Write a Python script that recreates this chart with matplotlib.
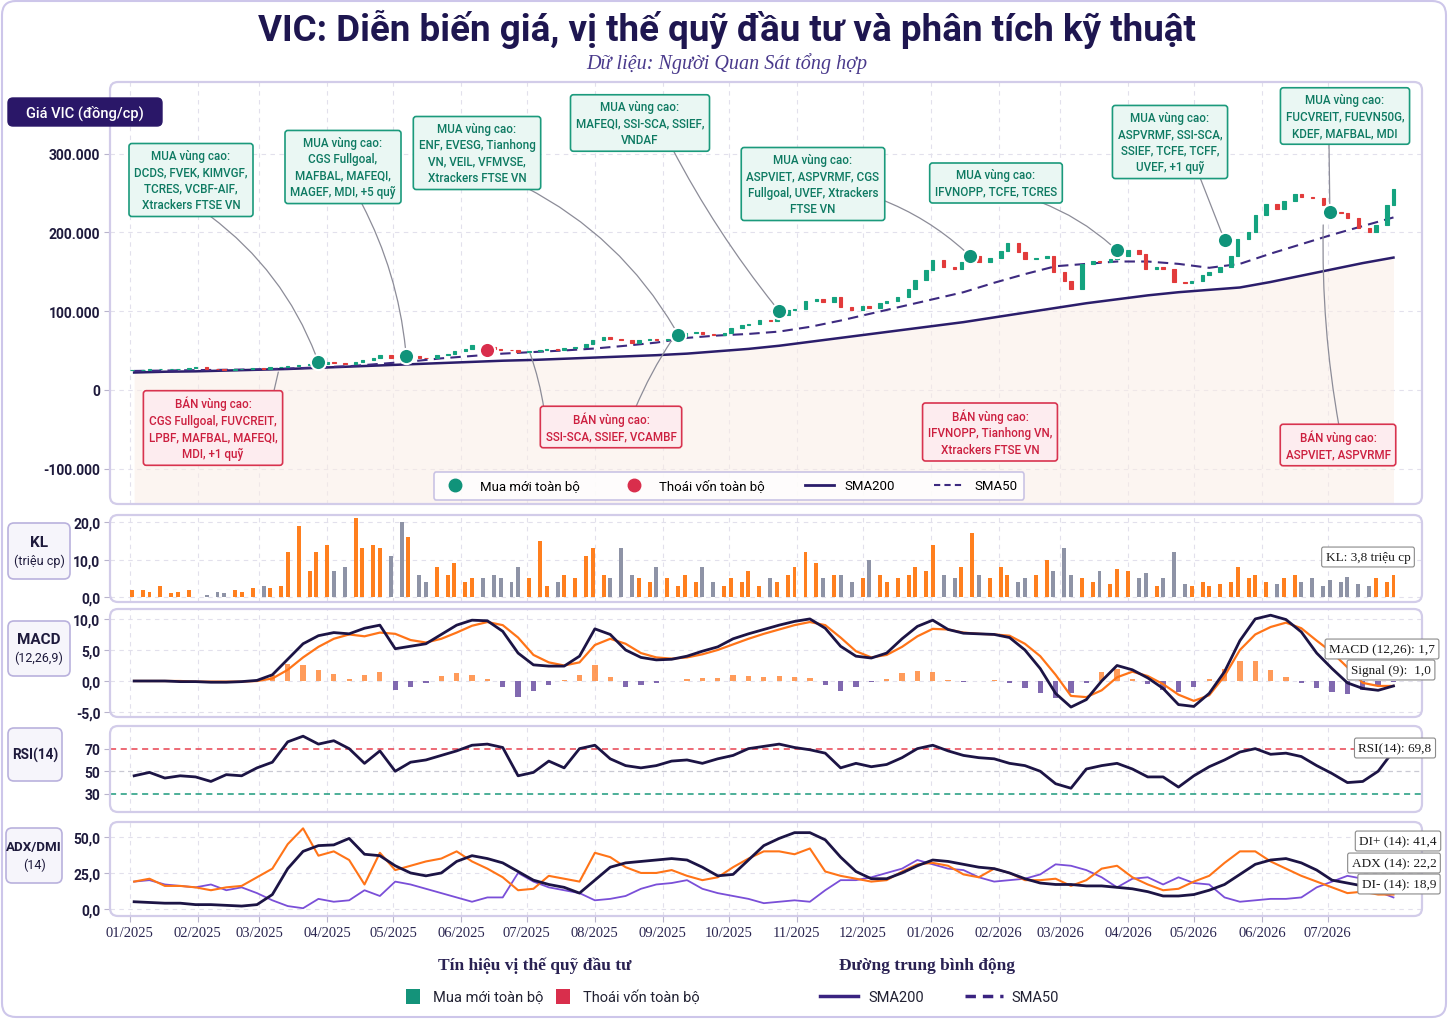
"""VIC: price, fund positioning signals and technical indicators (MACD, RSI, ADX/DMI)."""

import numpy as np
import pandas as pd
import matplotlib
matplotlib.use("Agg")
import matplotlib.pyplot as plt
import matplotlib.dates as mdates
from matplotlib.patches import FancyBboxPatch, Rectangle
from matplotlib.lines import Line2D
from matplotlib.transforms import IdentityTransform
from matplotlib.ticker import FuncFormatter

plt.rcParams["font.family"] = ["Roboto", "DejaVu Sans"]

W, H = 1448, 1020

# ---------------- data ----------------
# closing price, thousand VND, every 3 business days
close_k = [
    25, 25.5, 26, 26, 26.5, 27, 28, 29, 27, 26,
    25.5, 26, 26.5, 27.5, 27, 28.5, 29, 30, 31, 32.5,
    33, 35, 34, 33, 35, 38, 40, 44, 40, 37,
    43, 41, 40, 44, 46, 49, 52, 57, 54, 52,
    51, 50, 48, 49, 51, 52, 51, 53, 55, 58,
    63, 67, 65, 63, 59, 63, 65, 63, 64, 68,
    72, 73, 71, 70, 72, 78, 82, 84, 89, 88,
    95, 101, 103, 113, 116, 112, 118, 105, 102, 107,
    104, 110, 113, 118, 128, 140, 152, 165, 156, 153,
    162, 170, 162, 168, 176, 186, 175, 166, 168, 170,
    150, 138, 128, 160, 164, 163, 166, 170, 177, 172,
    154, 156, 153, 137, 136, 138, 146, 150, 156, 170,
    192, 200, 222, 236, 230, 240, 249, 245, 244, 235,
    226, 224, 218, 205, 200, 210, 235, 255,
]
# volume, million shares
volume_m = [
    2, 2, 1.5, 3, 1, 1.5, 2, 0, 0.5, 1.5,
    1, 2, 1.5, 2.5, 3, 2.5, 3, 12, 19, 7,
    12, 14, 7, 8, 21, 13, 14, 13, 11, 20,
    16, 6, 4, 8, 6, 9, 4, 5, 5, 6,
    5, 4, 8, 5, 15, 3, 4, 6, 5, 11,
    13, 6, 5, 13, 6, 5, 4, 8, 5, 3,
    6, 4, 8, 4, 3, 5, 4, 7, 3, 5,
    4, 6, 8, 12, 9, 5, 6, 6, 4, 5,
    10, 6, 4, 5, 6, 8, 7, 14, 6, 5,
    8, 17, 6, 5, 8, 6, 4, 5, 6, 10,
    7, 13, 6, 5, 4, 7, 3.5, 7.5, 7, 5,
    6.5, 3, 5, 12, 3.5, 3, 4, 3, 3.5, 4,
    8, 5, 6, 4, 3.5, 5, 6, 4, 5, 3,
    4.5, 4, 5.5, 3.5, 3, 5, 4, 6,
]
price_dates = pd.date_range("2025-01-02", periods=len(close_k), freq="3B")

# moving averages, thousand VND, every two weeks
sma200_k = [22, 23, 23.5, 24.5, 25.5, 26.5, 28, 29.5, 31, 32.5, 34, 35.5, 37, 38,
            39.5, 41, 42.5, 44, 46, 49, 52, 56, 61, 66, 71, 76, 81, 86, 92, 98,
            104, 110, 115, 120, 124, 127, 130, 137, 145, 153, 161, 168]
sma50_k = [24, 24.5, 25, 25.5, 26, 27, 28.5, 30, 33, 36, 40, 43, 46, 48,
           50, 52.5, 56, 60, 66, 69, 71, 74, 80, 88, 97, 106, 115, 124, 136, 147,
           157, 160, 163, 163, 160, 155, 160, 173, 185, 197, 208, 219]
sma_dates = pd.date_range("2025-01-03", periods=len(sma200_k), freq="2W-FRI")

# weekly indicators
macd = [0, 0, 0, -0.1, -0.1, -0.2, -0.2, -0.1, 0.1, 1.0,
        3.5, 6.0, 7.3, 7.8, 7.6, 8.5, 9.0, 5.2, 5.6, 6.0,
        7.5, 9.0, 9.8, 9.7, 8.0, 4.5, 2.6, 2.4, 2.4, 4.0,
        8.4, 7.5, 5.0, 3.8, 3.4, 3.5, 4.0, 4.8, 5.5, 6.8,
        7.6, 8.3, 9.0, 9.6, 10.0, 8.5, 5.6, 4.0, 3.7, 4.5,
        6.8, 8.8, 9.8, 8.3, 7.7, 7.6, 7.5, 7.0, 5.0, 2.0,
        -2.0, -4.2, -3.0, 0.0, 2.5, 1.8, 0.5, -1.2, -3.8, -4.1,
        -2.0, 1.5, 6.5, 10.0, 10.6, 9.9, 7.9, 4.5, 2.0, -0.3,
        -1.2, -1.5, -0.8]
signal = [0, 0, 0, 0, -0.1, -0.1, -0.1, -0.1, 0, 0.4,
          1.8, 3.8, 5.5, 6.8, 7.5, 7.2, 7.8, 7.6, 6.6, 6.2,
          6.8, 7.8, 8.9, 9.5, 9.0, 7.0, 4.2, 3.0, 2.5, 3.0,
          5.8, 6.8, 6.0, 4.5, 3.8, 3.6, 3.8, 4.3, 5.0, 5.9,
          6.8, 7.6, 8.3, 9.0, 9.5, 9.0, 7.0, 4.8, 3.8, 4.2,
          5.5, 7.2, 8.4, 8.3, 7.8, 7.6, 7.5, 7.3, 6.0, 4.0,
          1.0, -2.4, -2.6, -1.5, 0.6, 1.5, 0.8, -0.5, -2.2, -3.2,
          -2.3, 0.8, 5.0, 7.5, 8.7, 9.4, 8.5, 6.5, 4.6, 2.2,
          -0.3, -0.8, -0.8]
macd_hist = [0, 0, 0, 0, 0, 0, 0, 0, 0, 1.0,
             2.8, 2.5, 1.8, 1.2, 0.3, 1.0, 1.5, -1.5, -1.0, -0.3,
             0.8, 1.3, 1.0, 0.3, -1.0, -2.5, -1.6, -0.6, 0.2, 1.0,
             2.6, 0.7, -1.0, -0.7, -0.4, 0.0, 0.3, 0.5, 0.5, 0.9,
             0.8, 0.7, 0.8, 0.7, 0.5, -0.6, -1.6, -1.0, -0.2, 0.4,
             1.3, 1.6, 1.4, 0.2, -0.1, 0.0, 0.1, -0.4, -1.2, -2.0,
             -2.8, -2.0, -0.4, 1.5, 1.9, 0.4, -0.5, -1.5, -1.8, -1.0,
             0.3, 2.0, 3.2, 3.3, 1.8, 0.6, -0.4, -1.2, -1.7, -2.1,
             -1.5, -0.8, -0.2]
rsi = [46, 49, 44, 46, 45, 41, 47, 46, 53, 58,
       76, 81, 74, 77, 70, 57, 68, 50, 58, 60,
       64, 68, 73, 74, 71, 46, 49, 59, 53, 70,
       73, 61, 55, 53, 55, 59, 60, 57, 61, 64,
       70, 72, 74, 71, 69, 66, 53, 57, 54, 56,
       62, 70, 73, 68, 64, 62, 61, 57, 55, 50,
       39, 35, 52, 55, 57, 52, 45, 45, 36, 46,
       54, 60, 67, 70, 65, 66, 63, 55, 48, 40,
       41, 50, 68]
adx = [5, 4.5, 4, 4, 3, 3, 2.5, 2, 3, 10,
       28, 40, 44, 44.5, 49, 38, 37, 30, 25, 23,
       25, 33, 37, 35, 32, 26, 20, 17, 15, 11,
       20, 29, 32, 33, 34, 35, 34, 29, 23, 24,
       34, 44, 49, 53, 53, 48, 36, 26, 21, 21,
       25, 30, 34, 33, 31, 29, 28, 25, 21, 18,
       17, 17, 16, 16, 15, 14, 12, 9, 9, 10,
       13, 17, 24, 31, 34, 35, 32, 27, 20, 18,
       16, 15, 14]
di_plus = [19, 21, 16, 16, 15, 13, 15, 16, 22, 28,
           45, 56, 37, 40, 34, 17, 39, 27, 30, 33,
           35, 40, 33, 28, 22, 13, 14, 23, 21, 19,
           39, 36, 29, 25, 25, 27, 23, 20, 22, 29,
           35, 40, 40, 38, 42, 26, 23, 21, 19, 20,
           26, 31, 32, 30, 24, 22, 28, 25, 20, 20,
           21, 16, 20, 28, 30, 22, 17, 13, 14, 19,
           23, 32, 40, 40, 33, 28, 23, 19, 15, 11,
           12, 10, 10]
di_minus = [19, 20, 17, 16, 15, 17, 13, 15, 11, 6,
            2, 0.5, 7, 5, 6, 13, 9, 19, 17, 14,
            11, 8, 5, 8, 8, 25, 19, 15, 13, 11,
            6, 7, 9, 14, 17, 18, 20, 14, 11, 9,
            7, 4, 5, 6, 5, 13, 20, 20, 22, 25,
            28, 34, 31, 28, 27, 22, 19, 20, 21, 24,
            31, 30, 27, 22, 15, 21, 22, 17, 22, 18,
            17, 8, 5, 6, 7, 7, 8, 15, 19, 23,
            21, 12, 8]
ind_dates = pd.date_range("2025-01-03", periods=len(macd), freq="W-FRI")

# fund position events (price in VND)
buy_dates = pd.to_datetime(["2025-03-28", "2025-05-07", "2025-09-08", "2025-10-24",
                            "2026-01-19", "2026-03-27", "2026-05-15", "2026-07-02"])
buy_prices = [35000, 43000, 70000, 100000, 170000, 177000, 190000, 226000]
sell_dates = pd.to_datetime(["2025-06-13"])
sell_prices = [51000]

buy_texts = [
    "MUA vùng cao:\nDCDS, FVEK, KIMVGF,\nTCRES, VCBF-AIF,\nXtrackers FTSE VN",
    "MUA vùng cao:\nCGS Fullgoal,\nMAFBAL, MAFEQI,\nMAGEF, MDI, +5 quỹ",
    "MUA vùng cao:\nENF, EVESG, Tianhong\nVN, VEIL, VFMVSE,\nXtrackers FTSE VN",
    "MUA vùng cao:\nMAFEQI, SSI-SCA, SSIEF,\nVNDAF",
    "MUA vùng cao:\nASPVIET, ASPVRMF, CGS\nFullgoal, UVEF, Xtrackers\nFTSE VN",
    "MUA vùng cao:\nIFVNOPP, TCFE, TCRES",
    "MUA vùng cao:\nASPVRMF, SSI-SCA,\nSSIEF, TCFE, TCFF,\nUVEF, +1 quỹ",
    "MUA vùng cao:\nFUCVREIT, FUEVN50G,\nKDEF, MAFBAL, MDI",
]
sell_texts = [
    "BÁN vùng cao:\nCGS Fullgoal, FUVCREIT,\nLPBF, MAFBAL, MAFEQI,\nMDI, +1 quỹ",
    "BÁN vùng cao:\nSSI-SCA, SSIEF, VCAMBF",
    "BÁN vùng cao:\nIFVNOPP, Tianhong VN,\nXtrackers FTSE VN",
    "BÁN vùng cao:\nASPVIET, ASPVRMF",
]
sell_dates_zone = [["2025-03-10"], ["2025-07-02", "2025-09-06"], [], ["2026-06-29"]]
sell_prices_zone = [[26000], [50000, 67000], [], [213000]]

month_ticks = pd.date_range("2025-01-01", "2026-07-01", freq="MS")

# ---------------- layout helpers ----------------
NAVY = "#1c1445"
ORANGE = "#ff7418"
GREEN = "#10937a"
RED = "#d92e4c"
FRAME = "#d2cce9"

fig = plt.figure(figsize=(W / 100, H / 100), dpi=100)
fig.patch.set_facecolor("white")


def px_axes(x0, y0, x1, y1):
    return fig.add_axes([x0 / W, 1 - y1 / H, (x1 - x0) / W, (y1 - y0) / H])


def px_box(x0, y0, x1, y1, r=6, **kw):
    p = FancyBboxPatch((x0, H - y1), x1 - x0, y1 - y0,
                       boxstyle=f"round,pad=0,rounding_size={r}",
                       transform=IdentityTransform(), **kw)
    fig.add_artist(p)
    return p


def px_text(x, y, s, **kw):
    return fig.text(x / W, 1 - y / H, s, **kw)


fmt_dot = FuncFormatter(lambda v, p: f"{int(round(v)):,}".replace(",", "."))
fmt_comma = FuncFormatter(lambda v, p: f"{v:.1f}".replace(".", ","))

# outer border
px_box(2, 2, 1446, 1018, r=14, facecolor="none", edgecolor="#cdc6ea", lw=1.5)

px_text(727, 29, "VIC: Diễn biến giá, vị thế quỹ đầu tư và phân tích kỹ thuật",
        ha="center", va="center", fontsize=26.5, fontweight="bold", color="#1e1650")
px_text(727, 64, "Dữ liệu: Người Quan Sát tổng hợp", ha="center", va="center",
        fontsize=14.5, style="italic", family="Liberation Serif", color="#4a3a8c")

panels = {
    "price": (110, 83, 1422, 505),
    "vol": (110, 516, 1422, 603),
    "macd": (110, 610, 1422, 718),
    "rsi": (110, 727, 1422, 813),
    "adx": (110, 823, 1422, 917),
}
axes = {}
for name, (x0, y0, x1, y1) in panels.items():
    ax = px_axes(x0, y0, x1, y1)
    axes[name] = ax
    px_box(x0, y0, x1, y1, r=8, facecolor="none", edgecolor=FRAME, lw=1.6, zorder=3)
    for s in ax.spines.values():
        s.set_visible(False)
    ax.set_xlim(pd.Timestamp("2024-12-23"), pd.Timestamp("2026-08-13"))
    ax.set_xticks(month_ticks)
    ax.grid(True, ls=(0, (4, 4)), color="#e2e0ec", lw=0.8)
    ax.set_axisbelow(True)
    ax.tick_params(axis="y", length=4, color="#b8b4cc", labelsize=10,
                   labelcolor="#1e1a3c", pad=3)
    if name != "adx":
        ax.tick_params(axis="x", length=0, labelbottom=False)

# ---------------- price ----------------
ax = axes["price"]
close = np.array(close_k) * 1000
open_ = np.r_[close[0], close[:-1]]
up = close >= open_
ccol = np.where(up, "#14a37f", "#e23b3b")
ax.bar(price_dates, close - open_, bottom=open_, width=1.6, color=ccol,
       edgecolor=ccol, lw=0.8, zorder=3)
s200 = np.array(sma200_k) * 1000
s50 = np.array(sma50_k) * 1000
ax.fill_between(sma_dates, s200, -145000, color="#fbeee6", alpha=0.55, lw=0, zorder=1)
ax.plot(sma_dates, s200, color="#2b1d6b", lw=1.8, zorder=2)
ax.plot(sma_dates, s50, color="#3d2a80", lw=1.5, dashes=(5, 3), zorder=2)
ax.scatter(buy_dates, buy_prices, s=120, color=GREEN, edgecolor="white", lw=1.5, zorder=6)
ax.scatter(sell_dates, sell_prices, s=120, color=RED, edgecolor="white", lw=1.5, zorder=6)
ax.set_ylim(-145000, 391000)
ax.set_yticks([-100000, 0, 100000, 200000, 300000])
ax.yaxis.set_major_formatter(fmt_dot)

handles = [
    Line2D([], [], marker="o", ls="None", markerfacecolor=GREEN, markeredgecolor=GREEN, markersize=9),
    Line2D([], [], marker="o", ls="None", markerfacecolor=RED, markeredgecolor=RED, markersize=9),
    Line2D([], [], color="#2b1d6b", lw=2),
    Line2D([], [], color="#3d2a80", lw=1.5, dashes=(3, 2)),
]
leg = ax.legend(handles, ["Mua mới toàn bộ", "Thoái vốn toàn bộ", "SMA200", "SMA50"],
                loc="center", bbox_to_anchor=((729 - 110) / 1312, (505 - 487) / 422),
                ncol=4, fontsize=9.5, columnspacing=3.0, handlelength=2.2,
                borderpad=0.55, frameon=True, fancybox=True)
leg.get_frame().set_edgecolor("#bdb6e0")
leg.get_frame().set_linewidth(1.2)
leg.set_zorder(7)

# annotation boxes (centre px) and connector start points (px)
buy_box_xy = [(191, 181), (343, 168), (477, 154), (640, 124),
              (813, 185), (996, 184), (1170, 143), (1345, 117)]
buy_starts = [(210, 217), (362, 205), (525, 188), (672, 149),
              (880, 200), (1040, 203), (1199, 176), (1329, 143)]
buy_rads = [-0.15, -0.1, -0.15, 0.05, -0.1, -0.1, 0.0, 0.0]
sell_box_xy = [(213, 429), (611, 428), (990, 433), (1338, 446)]
sell_starts = [[(273, 396)], [(544, 410), (635, 410)], [], [(1339, 427)]]
sell_rads = [[0.0], [0.05, -0.05], [], [-0.05]]

for txt, (bx, by), (sx, sy), rad, d, p in zip(buy_texts, buy_box_xy, buy_starts,
                                                 buy_rads, buy_dates, buy_prices):
    ax.annotate("", xy=(d, p), xytext=(sx, H - sy), textcoords="figure pixels",
                arrowprops=dict(arrowstyle="-", color="#8c8c98", lw=0.9, shrinkA=0, shrinkB=5,
                                connectionstyle=f"arc3,rad={rad}"), zorder=4)
    px_text(bx, by, txt, ha="center", va="center", fontsize=8.4, fontweight="medium",
            color="#0e7a62", linespacing=1.35, zorder=8,
            bbox=dict(boxstyle="round,pad=0.45,rounding_size=0.25", facecolor="#eaf7f3",
                      edgecolor="#1b9a7c", lw=1.2))

for txt, (bx, by), starts, rads, ds, ps in zip(sell_texts, sell_box_xy, sell_starts,
                                                sell_rads, sell_dates_zone, sell_prices_zone):
    for (sx, sy), rad, d, p in zip(starts, rads, ds, ps):
        ax.annotate("", xy=(pd.Timestamp(d), p), xytext=(sx, H - sy), textcoords="figure pixels",
                    arrowprops=dict(arrowstyle="-", color="#8c8c98", lw=0.9, shrinkA=0, shrinkB=2,
                                    connectionstyle=f"arc3,rad={rad}"), zorder=4)
    px_text(bx, by, txt, ha="center", va="center", fontsize=8.4, fontweight="medium",
            color="#cc1f3f", linespacing=1.35, zorder=8,
            bbox=dict(boxstyle="round,pad=0.45,rounding_size=0.25", facecolor="#fdecef",
                      edgecolor="#d8334f", lw=1.2))

# ---------------- volume ----------------
ax = axes["vol"]
vcol = np.where(up, "#ff7f1e", "#8e93a6")
ax.bar(price_dates, volume_m, width=1.8, color=vcol, zorder=3)
ax.set_ylim(-1.3, 21.9)
ax.set_yticks([0, 10, 20])
ax.yaxis.set_major_formatter(fmt_comma)

# ---------------- MACD ----------------
ax = axes["macd"]
hist = np.array(macd_hist)
ax.bar(ind_dates, hist, width=2.4, color=np.where(hist >= 0, "#ff8a3d", "#6b4fa3"),
       alpha=0.85, zorder=2)
ax.plot(ind_dates, signal, color=ORANGE, lw=1.6, zorder=3)
ax.plot(ind_dates, macd, color=NAVY, lw=2.0, zorder=4)
ax.set_ylim(-5.8, 11.6)
ax.set_yticks([-5, 0, 5, 10])
ax.yaxis.set_major_formatter(fmt_comma)

# ---------------- RSI ----------------
ax = axes["rsi"]
ax.grid(False, axis="y")
ax.axhline(70, color="#e8414f", lw=1.1, ls=(0, (4, 3)))
ax.axhline(50, color="#c9c9d3", lw=0.9, ls=(0, (4, 3)))
ax.axhline(30, color="#1b9a7c", lw=1.1, ls=(0, (4, 3)))
ax.plot(ind_dates, rsi, color=NAVY, lw=2.0, zorder=4)
ax.set_ylim(14, 90)
ax.set_yticks([30, 50, 70])

# ---------------- ADX / DMI ----------------
ax = axes["adx"]
ax.plot(ind_dates, di_minus, color="#7a4fd8", lw=1.3, zorder=3)
ax.plot(ind_dates, di_plus, color=ORANGE, lw=1.5, zorder=3)
ax.plot(ind_dates, adx, color=NAVY, lw=2.0, zorder=4)
ax.set_ylim(-4.9, 60.4)
ax.set_yticks([0, 25, 50])
ax.yaxis.set_major_formatter(fmt_comma)
ax.xaxis.set_major_formatter(mdates.DateFormatter("%m/%Y"))
ax.tick_params(axis="x", length=4, color="#b8b4cc", labelsize=10.5, pad=3,
               labelcolor="#2a2550", labelfontfamily="Liberation Serif")

for a in axes.values():
    plt.setp(a.get_yticklabels(), fontweight="bold")

# ---------------- side labels ----------------
px_box(8, 99, 162, 127, r=5, facecolor="#2a1768", edgecolor="#2a1768", zorder=9)
px_text(85, 113, "Giá VIC (đồng/cp)", ha="center", va="center", fontsize=10.5,
        color="white", fontweight="medium", zorder=10)

side = [((8, 524, 70, 580), "KL", "(triệu cp)", 11),
        ((8, 622, 70, 677), "MACD", "(12,26,9)", 11),
        ((8, 729, 62, 782), "RSI(14)", None, 9.8),
        ((6, 829, 62, 884), "ADX/DMI", "(14)", 9.6)]
for (x0, y0, x1, y1), top, sub, fs in side:
    px_box(x0, y0, x1, y1, r=6, facecolor="#f6f5fb", edgecolor="#b9b1dd", lw=1.2, zorder=9)
    cx, cy = (x0 + x1) / 2, (y0 + y1) / 2
    if sub is None:
        px_text(cx, cy, top, ha="center", va="center", fontsize=fs, fontweight="bold",
                color="#1e1a3c", zorder=10)
    else:
        px_text(cx, cy - 9, top, ha="center", va="center", fontsize=fs, fontweight="bold",
                color="#1e1a3c", zorder=10)
        px_text(cx, cy + 9, sub, ha="center", va="center", fontsize=9,
                color="#1e1a3c", zorder=10)

right_labels = [("KL: 3,8 triệu cp", 1368, 558), ("MACD (12,26): 1,7", 1382, 650),
                ("Signal (9):  1,0", 1391, 671), ("RSI(14): 69,8", 1395, 749),
                ("DI+ (14): 41,4", 1398, 842), ("ADX (14): 22,2", 1394, 864),
                ("DI- (14): 18,9", 1399, 885)]
for s, x, y in right_labels:
    px_text(x, y, s, ha="center", va="center", fontsize=9.5, family="Liberation Serif",
            color="#1a1a1a", zorder=10,
            bbox=dict(boxstyle="round,pad=0.3,rounding_size=0.15", facecolor="white",
                      edgecolor="#8a8a8a", lw=0.8))

# ---------------- bottom legend ----------------
px_text(535, 966, "Tín hiệu vị thế quỹ đầu tư", ha="center", va="center", fontsize=12.5,
        fontweight="bold", family="Liberation Serif", color="#2a2253")
px_text(927, 966, "Đường trung bình động", ha="center", va="center", fontsize=12.5,
        fontweight="bold", family="Liberation Serif", color="#2a2253")
for x, col, lab in [(413, "#14937a", "Mua mới toàn bộ"), (563, "#d92e4c", "Thoái vốn toàn bộ")]:
    fig.add_artist(Rectangle((x - 7, H - 1005), 14, 15, transform=IdentityTransform(),
                             facecolor=col, edgecolor="none"))
    px_text(x + 20, 998, lab, ha="left", va="center", fontsize=10.5, color="#222233")
fig.add_artist(Line2D([820, 858], [H - 997, H - 997], transform=IdentityTransform(),
                      color="#3a2380", lw=2.5))
px_text(868, 998, "SMA200", ha="left", va="center", fontsize=10.5, color="#222233")
fig.add_artist(Line2D([965, 1003], [H - 997, H - 997], transform=IdentityTransform(),
                      color="#3a2380", lw=2.5, dashes=(3, 2)))
px_text(1011, 998, "SMA50", ha="left", va="center", fontsize=10.5, color="#222233")

fig.savefig("out.png", dpi=100)
